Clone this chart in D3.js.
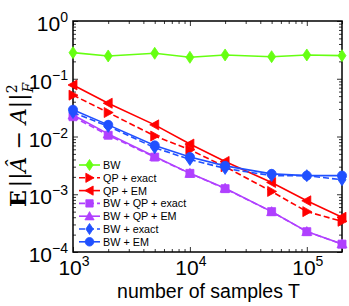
<!DOCTYPE html>
<html>
<head>
<meta charset="utf-8">
<script src="https://cdn.jsdelivr.net/npm/d3@7"></script>
<style>
  body { margin: 0; background: #fff; }
  text { font-family: "Liberation Sans", Arial, sans-serif; }
</style>
</head>
<body>
<div class="canva"></div>
<script>
const samples = [1000, 2000, 5000, 10000, 20000, 50000, 100000, 200000];
const bw        = [0.283, 0.248, 0.276, 0.235, 0.258, 0.241, 0.258, 0.251];
const qpExact   = [0.052, 0.026, 0.0102, 0.0059, 0.0030, 0.00112, 0.00050, 0.00034];
const qpEM      = [0.078, 0.0377, 0.0159, 0.0074, 0.0037, 0.0016, 0.00077, 0.00040];
const bwQpExact = [0.022, 0.0105, 0.0044, 0.0023, 0.00125, 0.00050, 0.000225, 0.000137];
const bwQpEM    = [0.0235, 0.0111, 0.0045, 0.0023, 0.00127, 0.00050, 0.000226, 0.000138];
const bwExact   = [0.026, 0.0150, 0.0064, 0.0040, 0.0028, 0.0021, 0.0021, 0.00178];
const bwEM      = [0.029, 0.0159, 0.0070, 0.0044, 0.0031, 0.00225, 0.0021, 0.0021];

const xMajor = [3, 4, 5];          // exponents
const yMajor = [0, -1, -2, -3, -4];

const series = [
    {name: "BW", values: bw, color: "#66ff11", dash: null, symbol: "diamond"},
    {name: "QP + exact", values: qpExact, color: "#ff0000", dash: "6,3", symbol: "right"},
    {name: "QP + EM", values: qpEM, color: "#ff0000", dash: null, symbol: "left"},
    {name: "BW + QP + exact", values: bwQpExact, color: "#b040ff", dash: "6,3", symbol: "square"},
    {name: "BW + QP + EM", values: bwQpEM, color: "#b040ff", dash: null, symbol: "up"},
    {name: "BW + exact", values: bwExact, color: "#2050ff", dash: "6,3", symbol: "diamond"},
    {name: "BW + EM", values: bwEM, color: "#2050ff", dash: null, symbol: "circle"}
];

const margin = { top: 21, right: 7, bottom: 54, left: 73 };
const width = 349, height = 306;
const graphWidth = width - margin.left - margin.right;
const graphHeight = height - margin.top - margin.bottom;

const svg = d3.select(".canva").append("svg")
    .attr("width", width)
    .attr("height", height);

const graph = svg.append("g")
    .attr("transform", `translate(${margin.left}, ${margin.top})`);

const x = d3.scaleLog().domain([1000, 200000]).range([0, graphWidth]);
const y = d3.scaleLog().domain([1e-4, 1]).range([graphHeight, 0]);

// minor ticks
const xMinor = [];
for (let e = 3; e <= 5; e++) for (let m = 2; m <= 9; m++) if (m * 10 ** e <= 200000) xMinor.push(m * 10 ** e);
const yMinor = [];
for (let e = -4; e < 0; e++) for (let m = 2; m <= 9; m++) yMinor.push(m * 10 ** e);

function addAxis(axisFn, scale, vals, size, transform) {
    const g = graph.append("g")
        .attr("transform", transform)
        .call(axisFn(scale).tickValues(vals).tickSize(size).tickFormat(""));
    g.select(".domain").remove();
    g.selectAll("line").attr("stroke", "#000").attr("stroke-width", 0.8);
}
const xMajVals = xMajor.map(e => 10 ** e);
const yMajVals = yMajor.map(e => 10 ** e);
addAxis(d3.axisBottom, x, xMajVals, -5, `translate(0, ${graphHeight})`);
addAxis(d3.axisBottom, x, xMinor, -3, `translate(0, ${graphHeight})`);
addAxis(d3.axisTop, x, xMajVals, -5, "translate(0, 0)");
addAxis(d3.axisTop, x, xMinor, -3, "translate(0, 0)");
addAxis(d3.axisLeft, y, yMajVals, -5, "translate(0, 0)");
addAxis(d3.axisLeft, y, yMinor, -3, "translate(0, 0)");
addAxis(d3.axisRight, y, yMajVals, -5, `translate(${graphWidth}, 0)`);
addAxis(d3.axisRight, y, yMinor, -3, `translate(${graphWidth}, 0)`);

// frame
graph.append("rect")
    .attr("width", graphWidth)
    .attr("height", graphHeight)
    .attr("fill", "none")
    .attr("stroke", "#000")
    .attr("stroke-width", 1.5);

// tick labels
xMajor.forEach(e => {
    const t = graph.append("text")
        .attr("x", x(10 ** e) + 1)
        .attr("y", graphHeight + 23)
        .attr("text-anchor", "middle")
        .style("font-size", "21px");
    t.append("tspan").text("10");
    t.append("tspan").attr("dy", -9).style("font-size", "14px").text(e);
});
yMajor.forEach(e => {
    const t = graph.append("text")
        .attr("x", -5)
        .attr("y", y(10 ** e) + 10)
        .attr("text-anchor", "end")
        .style("font-size", "21px");
    t.append("tspan").text("10");
    t.append("tspan").attr("dy", -9).style("font-size", "14px").text(e === 0 ? "0" : "\u2212" + (-e));
});

// axis labels
svg.append("text")
    .attr("x", margin.left + graphWidth / 2 + 1)
    .attr("y", 298)
    .attr("text-anchor", "middle")
    .style("font-size", "19.5px")
    .text("number of samples T");

const yl = svg.append("text")
    .attr("transform", "translate(26, 207) rotate(-90)")
    .attr("text-anchor", "start")
    .style("font-family", "'DejaVu Serif', 'Liberation Serif', serif")
    .style("font-size", "22px");
yl.append("tspan").style("font-weight", "bold").text("E");
yl.append("tspan").attr("dx", 3).text("||");
yl.append("tspan").style("font-style", "italic").text("\u00C2");
yl.append("tspan").text(" \u2212 ");
yl.append("tspan").style("font-style", "italic").text("A");
yl.append("tspan").text("||");
yl.append("tspan").attr("dy", -9).style("font-size", "14px").text("2");
yl.append("tspan").attr("dx", -8).attr("dy", 16).style("font-size", "14px").style("font-style", "italic").text("F");

// marker shapes
function markerPath(sym, s) {
    switch (sym) {
        case "diamond": return `M0,${-s * 1.2}L${s * 0.8},0L0,${s * 1.2}L${-s * 0.8},0Z`;
        case "right": return `M${s},0L${-s * 0.8},${-s}L${-s * 0.8},${s}Z`;
        case "left": return `M${-s},0L${s * 0.8},${-s}L${s * 0.8},${s}Z`;
        case "up": return `M0,${-s}L${s},${s * 0.8}L${-s},${s * 0.8}Z`;
        case "square": return `M${-s * 0.8},${-s * 0.8}H${s * 0.8}V${s * 0.8}H${-s * 0.8}Z`;
        case "circle": return `M${s},0A${s},${s} 0 1 1 ${-s},0A${s},${s} 0 1 1 ${s},0Z`;
    }
}

const line = d3.line()
    .x(d => x(d.t))
    .y(d => y(d.v));

series.forEach(s => {
    const pts = samples.map((t, i) => ({t: t, v: s.values[i]}));
    graph.append("path")
        .datum(pts)
        .attr("fill", "none")
        .attr("stroke", s.color)
        .attr("stroke-width", 1.6)
        .attr("stroke-dasharray", s.dash)
        .attr("d", line);
    graph.selectAll(null)
        .data(pts)
        .enter()
        .append("path")
        .attr("transform", d => `translate(${x(d.t)}, ${y(d.v)})`)
        .attr("d", markerPath(s.symbol, s.symbol === "circle" ? 4.6 : 5))
        .attr("fill", s.color)
        .attr("stroke", s.color)
        .attr("stroke-width", 0.8);
});

// legend
const legendGroup = svg.append("g")
    .attr("transform", "translate(79, 165)");
series.forEach((s, i) => {
    const row = legendGroup.append("g")
        .attr("transform", `translate(0, ${i * 12.8})`);
    row.append("line")
        .attr("x1", 0).attr("x2", 21)
        .attr("stroke", s.color)
        .attr("stroke-width", 1.6)
        .attr("stroke-dasharray", s.dash);
    row.append("path")
        .attr("transform", "translate(10.5, 0)")
        .attr("d", markerPath(s.symbol, s.symbol === "circle" ? 4.3 : 4.6))
        .attr("fill", s.color)
        .attr("stroke", s.color)
        .attr("stroke-width", 0.8);
    row.append("text")
        .attr("x", 24)
        .attr("y", 4)
        .style("font-size", "10.8px")
        .text(s.name);
});
</script>
</body>
</html>
